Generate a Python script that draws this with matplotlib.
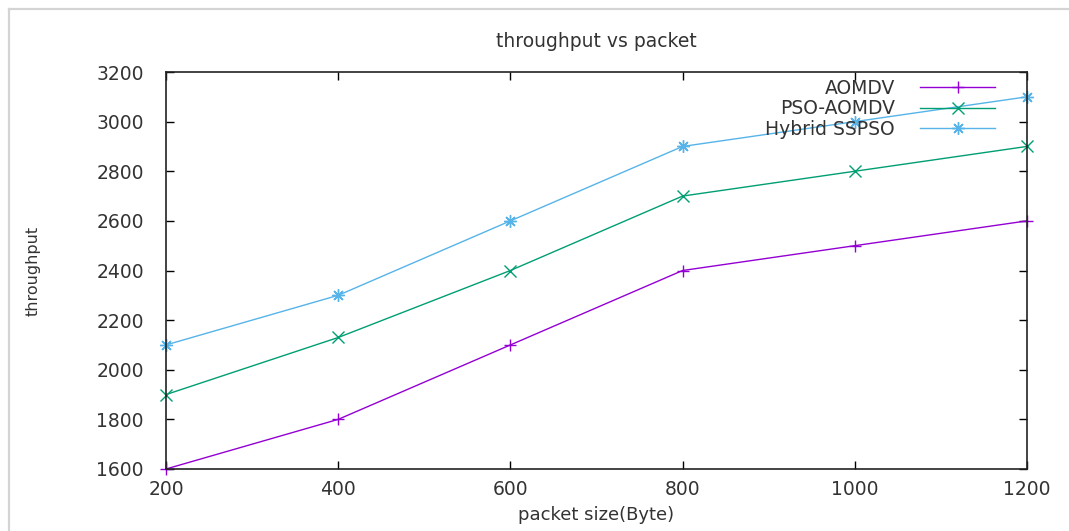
import matplotlib
matplotlib.use("Agg")
import matplotlib.pyplot as plt
from matplotlib.lines import Line2D

packet_size = [200, 400, 600, 800, 1000, 1200]
aomdv = [1600, 1800, 2100, 2400, 2500, 2600]
pso_aomdv = [1900, 2130, 2400, 2700, 2800, 2900]
hybrid_sspso = [2100, 2300, 2600, 2900, 3000, 3100]
series_names = ["AOMDV", "PSO-AOMDV", "Hybrid SSPSO"]
x_ticks = [200, 400, 600, 800, 1000, 1200]
y_ticks = [1600, 1800, 2000, 2200, 2400, 2600, 2800, 3000, 3200]

plt.rcParams['font.family'] = ['DejaVu Sans']
txt = '#333333'

fig = plt.figure(figsize=(10.69, 5.31), dpi=100)
# image frame lines
fig.add_artist(Line2D([9/1069, 9/1069], [0, 1-9/531], color='#d4d4d4', lw=1.6))
fig.add_artist(Line2D([9/1069, 1], [1-9/531, 1-9/531], color='#d4d4d4', lw=1.6))

ax = fig.add_axes([166/1069, 1-469/531, (1027-166)/1069, (469-72)/531])
colors = ['#9400D3', '#009E73', '#56B4E9']
markers = ['+', 'x', (8, 2, 0)]
for ys, name, c, m in zip([aomdv, pso_aomdv, hybrid_sspso], series_names, colors, markers):
    ax.plot(packet_size, ys, color=c, lw=1.0, marker=m, markersize=9,
            markeredgewidth=1.0, label=name, clip_on=False)

ax.set_xlim(200, 1200)
ax.set_ylim(1600, 3200)
ax.set_xticks(x_ticks)
ax.set_yticks(y_ticks)
ax.tick_params(direction='in', top=True, right=True, length=6, width=1,
               labelsize=13.5, labelcolor=txt)
ax.tick_params(axis='x', pad=8)
ax.tick_params(axis='y', pad=16)
for s in ax.spines.values():
    s.set_linewidth(1.2)
    s.set_color('#222222')

ax.set_title("throughput vs packet", fontsize=13.5, color=txt, pad=18)
ax.set_xlabel("packet size(Byte)", fontsize=13, color=txt, labelpad=5)
ax.set_ylabel("throughput", fontsize=11.5, color=txt)
ax.yaxis.set_label_coords((41-166)/861, 0.5)

leg = ax.legend(loc='upper right', bbox_to_anchor=((995-166)/861, (469-78.5)/397),
                frameon=False, markerfirst=False, fontsize=13.5, handlelength=4.0,
                handletextpad=1.33, labelspacing=0.09, borderaxespad=0.0, borderpad=0.0)
for t in leg.get_texts():
    t.set_color(txt)

fig.savefig("out.png", dpi=100)
